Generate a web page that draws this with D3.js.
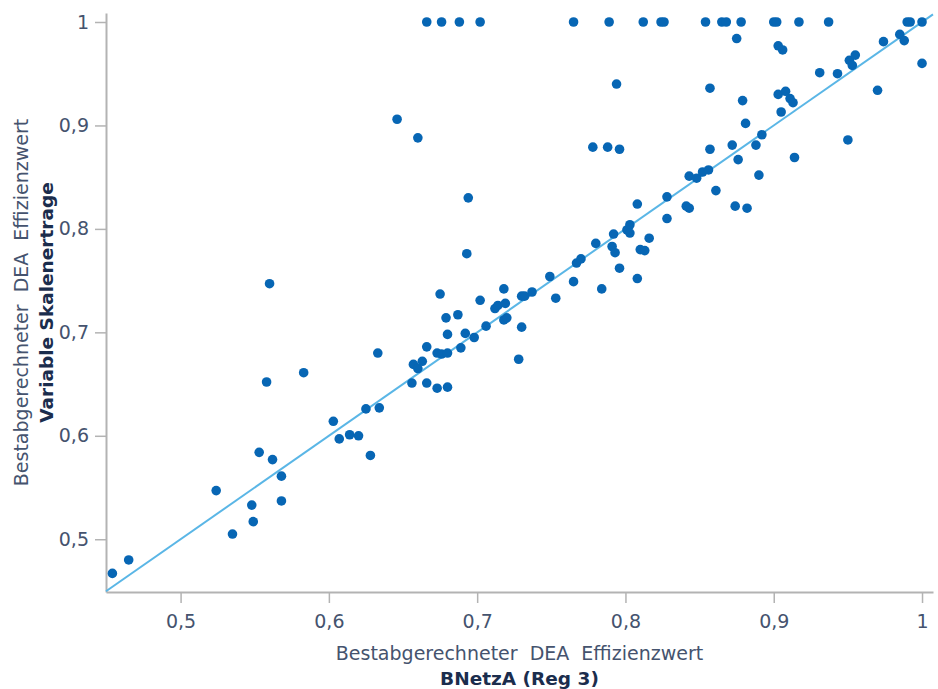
<!DOCTYPE html>
<html><head><meta charset="utf-8">
<script src="https://cdn.jsdelivr.net/npm/d3@7"></script>
<style>
body{margin:0;background:#fff;}
text{font-family:"DejaVu Sans",Verdana,sans-serif;}
</style></head>
<body><svg id="c" width="938" height="689"></svg>
<script>
// BNetzA (Reg 3) efficiency values (x)
const xValues = [
0.666,0.676,0.688,0.702,0.765,0.789,0.812,0.824,0.826,0.854,0.865,0.868,0.878,0.900,0.902,0.917,0.937,0.990,0.992,1.000,
0.646,0.660,0.694,0.794,0.778,0.788,0.796,0.875,0.903,0.906,0.974,0.985,0.988,1.000,0.931,0.943,0.951,0.955,0.953,0.970,
0.857,0.879,0.903,0.908,0.911,0.913,0.905,0.881,0.892,0.888,0.872,0.857,0.876,0.890,0.914,0.950,0.843,0.848,0.852,0.856,
0.861,0.828,0.808,0.841,0.843,0.874,0.882,0.828,0.803,0.801,0.803,0.816,0.792,0.780,0.791,0.793,0.796,0.810,0.813,0.808,
0.693,0.749,0.765,0.784,0.753,0.767,0.770,0.675,0.702,0.718,0.712,0.714,0.719,0.718,0.720,0.730,0.732,0.737,0.706,0.730,
0.728,0.679,0.687,0.680,0.692,0.698,0.689,0.666,0.673,0.676,0.680,0.657,0.660,0.663,0.656,0.666,0.673,0.680,0.633,0.583,
0.625,0.634,0.603,0.607,0.614,0.620,0.628,0.560,0.558,0.553,0.562,0.568,0.524,0.548,0.568,0.549,0.535,0.465,0.454
];
// DEA variable returns to scale efficiency values (y)
const yValues = [
1,1,1,1,1,1,1,1,1,1,1,1,1,1,1,1,1,1,1,1,
0.906,0.888,0.830,0.940,0.879,0.879,0.877,0.984,0.977,0.973,0.981,0.988,0.982,0.960,0.951,0.950,0.963,0.968,0.958,0.934,
0.936,0.924,0.930,0.933,0.926,0.922,0.913,0.902,0.891,0.881,0.881,0.877,0.867,0.852,0.869,0.886,0.851,0.849,0.855,0.857,
0.837,0.831,0.824,0.822,0.820,0.822,0.820,0.810,0.804,0.799,0.796,0.791,0.795,0.786,0.783,0.777,0.762,0.780,0.779,0.752,
0.776,0.754,0.749,0.742,0.733,0.767,0.771,0.737,0.731,0.742,0.723,0.726,0.728,0.712,0.714,0.735,0.735,0.739,0.706,0.705,
0.674,0.714,0.717,0.698,0.699,0.695,0.685,0.686,0.680,0.679,0.680,0.669,0.665,0.672,0.651,0.651,0.646,0.647,0.680,0.661,
0.626,0.627,0.614,0.597,0.601,0.600,0.581,0.747,0.652,0.584,0.577,0.561,0.547,0.533,0.537,0.517,0.505,0.480,0.467
];
const tickValues = [0.5,0.6,0.7,0.8,0.9,1];
const xDomain = [0.4497, 1.0074];
const yDomain = [0.449, 1.0087];
const xTitle1 = "Bestabgerechneter  DEA  Effizienzwert";
const xTitle2 = "BNetzA (Reg 3)";
const yTitle1 = "Bestabgerechneter  DEA  Effizienzwert";
const yTitle2 = "Variable Skalenertrage";

const svg = d3.select("#c");
const L = 106, R = 933, T = 13, B = 592;
const x = d3.scaleLinear().domain(xDomain).range([L, R]);
const y = d3.scaleLinear().domain(yDomain).range([B, T]);
const fmt = d => String(d).replace(".", ",");

const axisColor = "#b3b3b3", textColor = "#45536e", titleColor = "#1b2d4d";
const fs = 19;

// x axis
const gx = svg.append("g").attr("transform", `translate(0,${B})`)
  .call(d3.axisBottom(x).tickValues(tickValues).tickFormat(fmt).tickSize(11).tickSizeOuter(0).tickPadding(12));
gx.select(".domain").attr("stroke", axisColor).attr("stroke-width", 2);
gx.selectAll(".tick line").attr("stroke", axisColor).attr("stroke-width", 1.5);
gx.selectAll(".tick text").attr("fill", textColor).attr("font-size", fs).attr("font-family", "DejaVu Sans");

// y axis
const gy = svg.append("g").attr("transform", `translate(${L},0)`)
  .call(d3.axisLeft(y).tickValues(tickValues).tickFormat(fmt).tickSize(11).tickSizeOuter(0).tickPadding(6));
gy.select(".domain").attr("stroke", axisColor).attr("stroke-width", 2);
gy.selectAll(".tick line").attr("stroke", axisColor).attr("stroke-width", 1.5);
gy.selectAll(".tick text").attr("fill", textColor).attr("font-size", fs).attr("font-family", "DejaVu Sans");

// diagonal reference line
svg.append("line")
  .attr("x1", x(xDomain[0])).attr("y1", y(xDomain[0]))
  .attr("x2", x(xDomain[1])).attr("y2", y(xDomain[1]))
  .attr("stroke", "#5ab6e6").attr("stroke-width", 2);

// points
const pts = xValues.map((v, i) => ({x: v, y: yValues[i]}));
svg.append("g").selectAll("circle").data(pts).join("circle")
  .attr("cx", d => x(d.x)).attr("cy", d => y(d.y)).attr("r", 4.8)
  .attr("fill", "#0766b4");

// titles
const cx = (L + R) / 2, cy = (T + B) / 2;
svg.append("text").attr("x", cx).attr("y", 660).attr("text-anchor", "middle")
  .attr("fill", textColor).attr("font-size", fs).style("white-space", "pre").text(xTitle1);
svg.append("text").attr("x", cx).attr("y", 685).attr("text-anchor", "middle")
  .attr("fill", titleColor).attr("font-size", 18.5).attr("font-weight", "bold").text(xTitle2);

svg.append("text").attr("transform", `translate(28,${cy}) rotate(-90)`).attr("text-anchor", "middle")
  .attr("fill", textColor).attr("font-size", fs).style("white-space", "pre").text(yTitle1);
svg.append("text").attr("transform", `translate(53,${cy}) rotate(-90)`).attr("text-anchor", "middle")
  .attr("fill", titleColor).attr("font-size", 18.5).attr("font-weight", "bold").text(yTitle2);
</script>
</body></html>
